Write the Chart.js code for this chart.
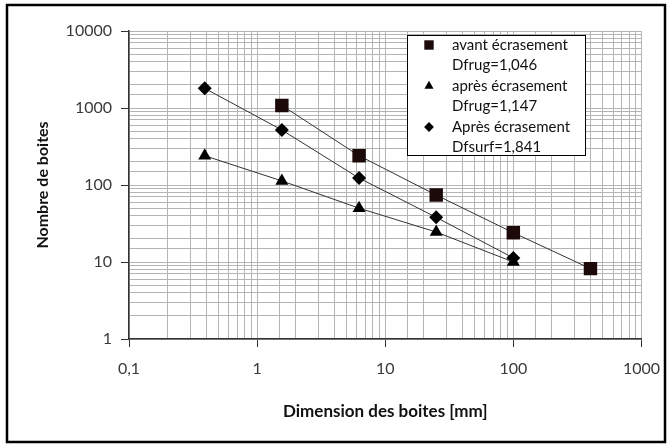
<!DOCTYPE html>
<html>
<head>
<meta charset="utf-8">
<script src="https://cdn.jsdelivr.net/npm/chart.js@4"></script>
<style>
  html, body { margin: 0; padding: 0; background: #fff; }
  #wrap { width: 672px; height: 446px; }
</style>
</head>
<body>
<div id="wrap"><canvas id="boxChart" width="672" height="446"></canvas></div>
<script>
// box sizes [mm]
const sizesAvant = [1.56, 6.25, 25, 100, 400];
const sizesApres = [0.39, 1.56, 6.25, 25, 100];

// box counts
const countAvant = [1080, 240, 74, 24, 8.2];
const countApresTri = [240, 113, 50, 24.5, 10];
const countApresDia = [1800, 518, 123, 38, 11.3];

const seriesNames = ['avant écrasement', 'après écrasement', 'Après écrasement'];
const seriesDims = ['Dfrug=1,046', 'Dfrug=1,147', 'Dfsurf=1,841'];

const xTicks = [0.1, 1, 10, 100, 1000];
const yTicks = [1, 10, 100, 1000, 10000];

const FONT = 'Lato, "Open Sans", sans-serif';

function pts(xs, ys) {
    return xs.map(function (x, i) { return { x: x, y: ys[i] }; });
}

function isMajor(v, list) {
    return list.some(function (t) { return Math.abs(t - v) / t < 1e-6; });
}

function fmt(v) {
    return String(v).replace('.', ',');
}

// frame around the whole picture
const framePlugin = {
    id: 'frame',
    beforeDraw: function (chart) {
        const ctx = chart.ctx;
        ctx.save();
        ctx.fillStyle = '#fff';
        ctx.fillRect(0, 0, chart.width, chart.height);
        ctx.strokeStyle = '#000';
        ctx.lineWidth = 2.5;
        ctx.strokeRect(7, 5, 658, 437);
        ctx.restore();
    }
};

// legend box with two text lines per series
const legendBox = {
    id: 'legendBox',
    afterDraw: function (chart) {
        const ctx = chart.ctx;
        const x0 = 407, y0 = 35, w = 178, h = 120;
        ctx.save();
        ctx.fillStyle = '#fff';
        ctx.fillRect(x0, y0, w, h);
        ctx.strokeStyle = '#000';
        ctx.lineWidth = 1;
        ctx.strokeRect(x0 + 0.5, y0 + 0.5, w, h);
        ctx.font = '15px ' + FONT;
        ctx.textBaseline = 'middle';
        ctx.textAlign = 'left';
        chart.data.datasets.forEach(function (ds, i) {
            const yy = y0 + 10 + i * 41;
            ctx.fillStyle = ds.pointBackgroundColor;
            ctx.strokeStyle = ds.pointBackgroundColor;
            Chart.helpers.drawPoint(ctx, {
                pointStyle: ds.pointStyle,
                radius: ds.pointRadius * 0.7,
                rotation: 0,
                borderWidth: 0
            }, 429, yy);
            ctx.fillStyle = '#111';
            ctx.fillText(seriesNames[i], 452, yy);
            ctx.fillText(seriesDims[i], 452, yy + 20);
        });
        ctx.restore();
    }
};

function axisCfg(list, min, max, title) {
    return {
        type: 'logarithmic',
        min: min,
        max: max,
        border: { color: '#333', width: 1.5 },
        grid: {
            color: '#b4b4b4',
            lineWidth: 1,
            tickLength: 8,
            tickColor: function (c) {
                return c.tick && isMajor(c.tick.value, list) ? '#333' : 'rgba(0,0,0,0)';
            }
        },
        ticks: {
            autoSkip: false,
            maxRotation: 0,
            color: '#3a3a3a',
            font: { family: FONT, size: 16 },
            callback: function (v) {
                return isMajor(v, list) ? fmt(v) : '';
            }
        },
        title: {
            display: true,
            text: title,
            color: '#111',
            font: { family: FONT, size: 17, weight: 'bold' }
        }
    };
}

document.addEventListener('DOMContentLoaded', function () {

    const xAxis = axisCfg(xTicks, 0.1, 1000, 'Dimension des boites [mm]');
    xAxis.ticks.padding = 12;
    xAxis.title.padding = { top: 24, bottom: 24 };
    xAxis.afterFit = function (s) { s.height = 107; };

    const yAxis = axisCfg(yTicks, 1, 10000, 'Nombre de boites');
    yAxis.ticks.padding = 9;
    yAxis.title.font.size = 16;
    yAxis.title.padding = { top: 33, bottom: 33 };
    yAxis.afterFit = function (s) { s.width = 129; };

    new Chart(document.getElementById('boxChart'), {
        type: 'scatter',
        data: {
            datasets: [
                {
                    label: seriesNames[0],
                    data: pts(sizesAvant, countAvant),
                    showLine: true,
                    borderColor: '#333',
                    borderWidth: 1,
                    pointStyle: 'rect',
                    pointRadius: 9.5,
                    pointHoverRadius: 9.5,
                    pointBackgroundColor: '#1c0a0a',
                    pointBorderColor: '#1c0a0a',
                    pointBorderWidth: 0
                },
                {
                    label: seriesNames[1],
                    data: pts(sizesApres, countApresTri),
                    showLine: true,
                    borderColor: '#333',
                    borderWidth: 1,
                    pointStyle: 'triangle',
                    pointRadius: 7.5,
                    pointHoverRadius: 7.5,
                    pointBackgroundColor: '#000',
                    pointBorderColor: '#000',
                    pointBorderWidth: 0
                },
                {
                    label: seriesNames[2],
                    data: pts(sizesApres, countApresDia),
                    showLine: true,
                    borderColor: '#333',
                    borderWidth: 1,
                    pointStyle: 'rectRot',
                    pointRadius: 7,
                    pointHoverRadius: 7,
                    pointBackgroundColor: '#000',
                    pointBorderColor: '#000',
                    pointBorderWidth: 0
                }
            ]
        },
        options: {
            responsive: false,
            animation: false,
            layout: { padding: { left: 0, right: 30, top: 31, bottom: 0 } },
            plugins: {
                legend: { display: false },
                tooltip: { enabled: false }
            },
            scales: { x: xAxis, y: yAxis }
        },
        plugins: [framePlugin, legendBox]
    });
});
</script>
</body>
</html>
